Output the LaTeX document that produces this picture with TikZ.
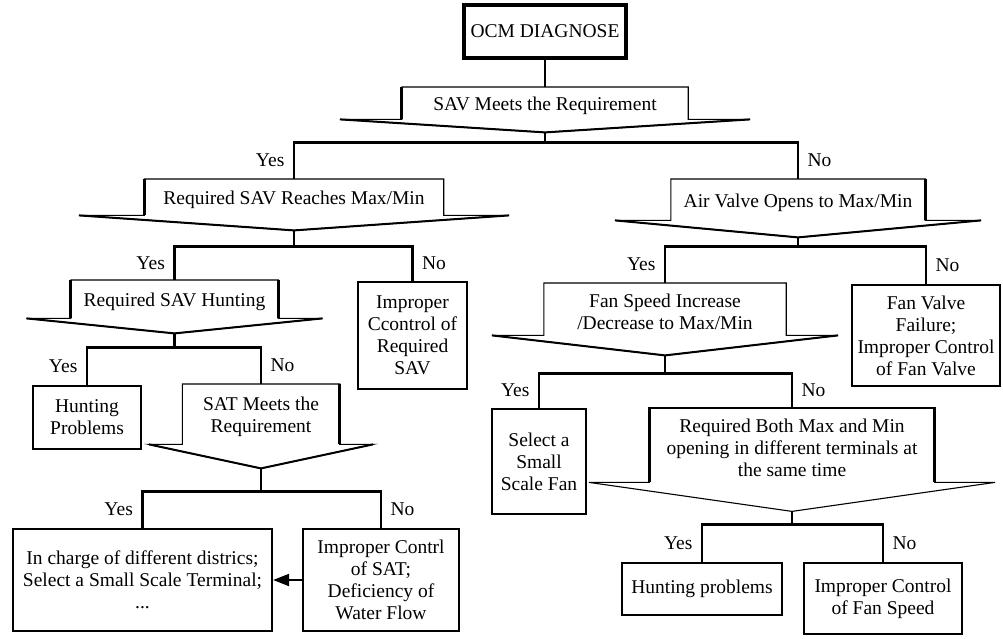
\documentclass[tikz,border=0pt]{standalone}
\usepackage{fontspec}
\setmainfont{Liberation Serif}
\usetikzlibrary{calc,arrows.meta}
\newcommand{\decision}[8]{%
  \node[minimum width=#4pt, minimum height=#5pt, inner sep=0pt, anchor=north] (#1) at (#2,#3) {};
  \node[dtext] (#1t) at ($(#1.center)+(0,3)$) {#8};
  \path (#1.south) ++(0,#7) coordinate (#1tip);
  \path (#1.south) ++(#6,0) coordinate (#1r);
  \path (#1.south) ++(-#6,0) coordinate (#1l);
  \draw[dline] (#1.north west) -- (#1.north east) -- (#1.south east) -- (#1r) -- (#1tip) -- (#1l) -- (#1.south west) -- cycle;
}
\begin{document}
\begin{tikzpicture}[x=1pt,y=-1pt,
  font=\fontsize{19.5}{22}\selectfont,
  box/.style={draw, line width=2.2pt, align=center, inner sep=0pt},
  dtext/.style={inner sep=0pt, align=center},
  dline/.style={line width=1.1pt, line join=miter},
  thk/.style={line width=2.8pt, line cap=butt},
  wing/.style={line width=2pt},
  conn/.style={line width=2.6pt},
  yes/.style={anchor=east, xshift=-5pt},
  no/.style={anchor=west, xshift=5pt}]
\useasboundingbox (0,0) rectangle (1003,639);

% start box
\node[box, line width=4pt, minimum width=162pt, minimum height=53pt] (ocm) at (545,31.5) {OCM DIAGNOSE};

% decisions
\decision{d1}{545}{87}{286}{32}{205}{13}{SAV Meets the Requirement}
\decision{d2}{294}{179}{299}{36}{215}{15}{Required SAV Reaches Max/Min}
\decision{d3}{798}{179}{254}{41}{183}{17}{Air Valve Opens to Max/Min}
\decision{d4}{174.5}{280}{207}{38}{148}{15}{Required SAV Hunting}
\decision{d5}{261}{384}{157}{60}{112}{24}{SAT Meets the\\Requirement}
\decision{d6}{665}{283}{242}{52}{173}{20}{Fan Speed Increase\\/Decrease to Max/Min}
\decision{d7}{792}{408}{285}{74}{203}{29}{Required Both Max and Min\\opening in different terminals at\\the same time}

% shading of decision outlines
\draw[wing] (d1l) -- (d1tip) -- (d1r);
\draw[wing] (d2l) -- (d2tip) -- (d2r);
\draw[wing] (d3l) -- (d3tip) -- (d3r);
\draw[wing] (d4l) -- (d4tip) -- (d4r);
\draw[wing] (d5l) -- (d5tip) -- (d5r);
\draw[wing] (d6l) -- (d6tip) -- (d6r);
\draw[thk] (d1.north west) -- (d1.south west);
\draw[thk] (d2.north west) -- (d2.south west);
\draw[thk] (d3.north east) -- (d3.south east);
\draw[thk] (d4.north west) -- (d4.south west);
\draw[thk] (d4.north east) -- (d4.south east);
\draw[thk] (d5.north east) -- (d5.south east);
\draw[thk] (d7.south west) -- (d7.north west) -- (d7.north east) -- (d7.south east);

% leaf boxes
\node[box, minimum width=109pt, minimum height=107pt] (sav) at (412.5,335.5) {Improper\\Ccontrol of\\Required\\SAV};
\node[box, minimum width=148pt, minimum height=101pt] (fv) at (926,335.5) {Fan Valve\\Failure;\\Improper Control\\of Fan Valve};
\node[box, minimum width=108pt, minimum height=63pt] (hp) at (87,417.5) {Hunting\\Problems};
\node[box, minimum width=259pt, minimum height=102pt] (big) at (142.5,580) {In charge of different districs;\\Select a Small Scale Terminal;\\...};
\node[box, minimum width=156pt, minimum height=102pt] (ctl) at (381,580) {Improper Contrl\\of SAT;\\Deficiency of\\Water Flow};
\node[box, minimum width=94pt, minimum height=105pt] (sf) at (539,461.5) {Select a\\Small\\Scale Fan};
\node[box, minimum width=160pt, minimum height=52pt] (hp2) at (702,589) {Hunting problems};
\node[box, minimum width=158pt, minimum height=71pt] (fs) at (883,598.5) {Improper Control\\of Fan Speed};

% connectors
\draw[conn] (ocm.south) -- (d1.north);
\draw[conn] (d1tip) -- ++(0,10) -| node[pos=0.75,yes]{Yes} (d2.north);
\draw[conn] (d1tip) -- ++(0,10) -| node[pos=0.75,no]{No} (d3.north);
\draw[conn] (d2tip) -- ++(0,16) -| node[pos=0.75,yes]{Yes} (d4.north);
\draw[conn] (d2tip) -- ++(0,16) -| node[pos=0.75,no]{No} (sav.north);
\draw[conn] (d3tip) -- ++(0,9) -| node[pos=0.75,yes]{Yes} (d6.north);
\draw[conn] (d3tip) -- ++(0,9) -| node[pos=0.75,no]{No} (fv.north);
\draw[conn] (d4tip) -- ++(0,14) -| node[pos=0.75,yes]{Yes} (hp.north);
\draw[conn] (d4tip) -- ++(0,14) -| node[pos=0.75,no]{No} (d5.north);
\draw[conn] (d5tip) -- ++(0,23) -| node[pos=0.75,yes]{Yes} (big.north);
\draw[conn] (d5tip) -- ++(0,23) -| node[pos=0.75,no]{No} (ctl.north);
\draw[conn] (d6tip) -- ++(0,18) -| node[pos=0.75,yes]{Yes} (sf.north);
\draw[conn] (d6tip) -- ++(0,18) -| node[pos=0.75,no]{No} (d7.north);
\draw[conn] (d7tip) -- ++(0,13) -| node[pos=0.75,yes]{Yes} (hp2.north);
\draw[conn] (d7tip) -- ++(0,13) -| node[pos=0.75,no]{No} (fs.north);
\draw[line width=2pt, -{Triangle[length=16pt,width=12pt]}] (ctl.west) -- (big.east);
\end{tikzpicture}
\end{document}
